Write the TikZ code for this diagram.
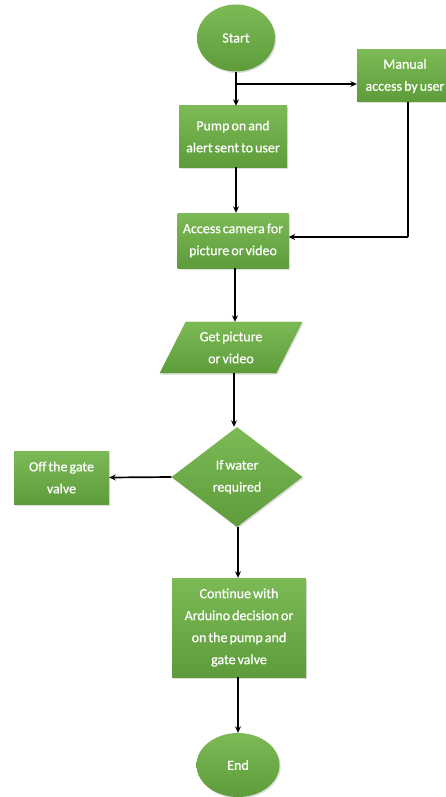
\documentclass[tikz,border=0pt]{standalone}
\usepackage{fontspec}
\setmainfont[WordSpace=0.65,FakeBold=0.6]{Carlito}
\usetikzlibrary{shapes.geometric,arrows.meta,calc,shadows}
\definecolor{gtop}{HTML}{7BBA55}
\definecolor{gbot}{HTML}{5E9C3B}
\definecolor{gmid}{HTML}{6DAC48}
\tikzset{
  box/.style={rectangle, draw=none, top color=gtop, bottom color=gbot, text=white,
    align=center, inner sep=1pt, font=\fontsize{14}{22}\selectfont,
    drop shadow={opacity=0.25, shadow xshift=1.2pt, shadow yshift=-1.5pt}},
  oval/.style={box, ellipse},
  dia/.style={box, diamond, inner sep=0pt, aspect=1.31},
  arr/.style={draw=black, line width=1.7pt, -{Stealth[length=6.5pt,width=6pt]}},
  ln/.style={draw=black, line width=1.7pt}
}
\begin{document}
\begin{tikzpicture}[x=1pt,y=-1pt]
\useasboundingbox (0,0) rectangle (446,797);
\fill[white] (0,0) rectangle (446,797);
\node[oval, minimum width=78, minimum height=67] (start) at (236,38) {Start};
\node[box, minimum width=96, minimum height=52] (manual) at (405,76) {Manual\\access by user};
\node[box, minimum width=108, minimum height=61] (pump) at (233,136.5) {Pump on and\\alert sent to user};
\node[box, minimum width=111, minimum height=55] (access) at (233,240.5) {Access camera for\\picture or video};
\node[rectangle, minimum width=116, minimum height=51, inner sep=0pt] (getb) at (231,347.5) {};
\fill[gmid, top color=gtop, bottom color=gbot,
  drop shadow={opacity=0.25, shadow xshift=1.2pt, shadow yshift=-1.5pt}]
  ($(getb.north west)+(13,0)$) -- ($(getb.north east)+(13,0)$) --
  ($(getb.south east)+(-13,0)$) -- ($(getb.south west)+(-13,0)$) -- cycle;
\node[text=white, align=center, font=\fontsize{14}{22}\selectfont] (get) at (getb.center) {Get picture\\or video};
\node[dia, minimum width=131, minimum height=100] (dec) at (237,477) {If water\\required};
\node[box, minimum width=95, minimum height=53] (off) at (61.5,477.5) {Off the gate\\valve};
\node[box, minimum width=134, minimum height=99] (cont) at (239,627.5) {Continue with\\Arduino decision or\\on the pump and\\gate valve};
\node[oval, minimum width=83, minimum height=64] (end) at (238,765) {End};
\coordinate (br) at (236,84);
\draw[arr] (start.south) -- (start.south |- pump.north);
\draw[arr] (br) -- (br -| manual.west);
\draw[arr] (pump.south -| start.south) -- (start.south |- access.north);
\draw[ln] ([xshift=3pt]manual.south) -- ([xshift=3pt]manual.south |- 0,237);
\draw[arr] ([xshift=3pt]manual.south |- 0,237) -- (access.east |- 0,237);
\draw[arr] (access.south -| 235,0) -- (235,0 |- getb.north);
\draw[arr] (getb.south -| 234,0) -- (234,0 |- dec.north);
\draw[arr] (dec.west) -- (off.east);
\draw[arr] (dec.south -| 238,0) -- (238,0 |- cont.north);
\draw[arr] (cont.south -| 238,0) -- (238,0 |- end.north);
\end{tikzpicture}
\end{document}
